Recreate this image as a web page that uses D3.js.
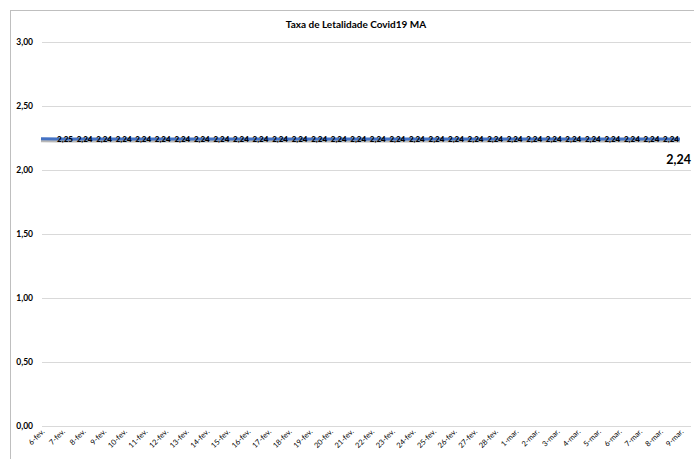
<!DOCTYPE html>
<html><head><meta charset="utf-8">
<script src="https://cdn.jsdelivr.net/npm/d3@7"></script>
<style>body{margin:0;background:#fff}svg{display:block}</style>
</head><body>
<script>
const categories = ["6-fev.","7-fev.","8-fev.","9-fev.","10-fev.","11-fev.","12-fev.","13-fev.","14-fev.","15-fev.","16-fev.","17-fev.","18-fev.","19-fev.","20-fev.","21-fev.","22-fev.","23-fev.","24-fev.","25-fev.","26-fev.","27-fev.","28-fev.","1-mar.","2-mar.","3-mar.","4-mar.","5-mar.","6-mar.","7-mar.","8-mar.","9-mar."];
const values = [2.245,2.242,2.242,2.242,2.242,2.242,2.242,2.242,2.242,2.242,2.242,2.242,2.242,2.242,2.242,2.242,2.242,2.242,2.242,2.242,2.242,2.242,2.242,2.242,2.242,2.242,2.242,2.242,2.242,2.242,2.242,2.242];
const yTicks = [0,0.5,1,1.5,2,2.5,3];
const title = "Taxa de Letalidade Covid19 MA";
const lastLabel = "2,24";

const W = 694, H = 459;
const fmt = v => d3.format(".2f")(v).replace(".", ",");
const svg = d3.select("body").append("svg").attr("width", W).attr("height", H);

// chart frame
svg.append("rect").attr("x", 10.5).attr("y", 10.5).attr("width", 720).attr("height", 500)
  .attr("fill", "none").attr("stroke", "#bfbfbf").attr("stroke-width", 1);

const y = d3.scaleLinear().domain([0, 3]).range([426, 42]);
const x = d3.scalePoint().domain(categories).range([41, 680]);
const xl = d3.scalePoint().domain(categories).range([65, 671]);

// gridlines
svg.append("g").selectAll("line").data(yTicks).join("line")
  .attr("x1", 42).attr("x2", 691)
  .attr("y1", d => Math.round(y(d)) + 0.5).attr("y2", d => Math.round(y(d)) + 0.5)
  .attr("stroke", "#d9d9d9").attr("stroke-width", 1);

// y labels
svg.append("g").selectAll("text").data(yTicks).join("text")
  .attr("x", 33).attr("y", d => y(d)).attr("dy", "0.35em")
  .attr("text-anchor", "end").attr("font-family", "Lato").attr("font-weight", "bold")
  .attr("font-size", 8.5).attr("fill", "#000").text(fmt);

// title
svg.append("text").attr("x", 356).attr("y", 28).attr("text-anchor", "middle")
  .attr("font-family", "Lato").attr("font-weight", "bold").attr("font-size", 10)
  .attr("fill", "#000").text(title);

// line shadow + line
const line = d3.line().x((d, i) => x(categories[i])).y(d => y(d));
svg.append("path").datum(values).attr("d", line).attr("transform", "translate(0,2)")
  .attr("fill", "none").attr("stroke", "#9a9a9a").attr("stroke-width", 3).attr("opacity", 0.7);
svg.append("path").datum(values).attr("d", line)
  .attr("fill", "none").attr("stroke", "#4472C4").attr("stroke-width", 3);

// data labels
svg.append("g").selectAll("text").data(values).join("text")
  .attr("x", (d, i) => xl(categories[i])).attr("y", y(2.242)).attr("dy", "0.35em")
  .attr("text-anchor", "middle").attr("font-family", "Lato").attr("font-weight", "900")
  .attr("font-size", 8).attr("fill", "#000").text(fmt);

// big last label
svg.append("text").attr("x", 691).attr("y", y(values[values.length - 1]) + 25)
  .attr("text-anchor", "end").attr("font-family", "Lato").attr("font-weight", "bold")
  .attr("font-size", 12.5).attr("fill", "#000").text(lastLabel);

// x labels
svg.append("g").selectAll("text").data(categories).join("text")
  .attr("transform", d => `translate(${x(d) + 4},${432}) rotate(-45)`)
  .attr("text-anchor", "end").attr("font-family", "Lato")
  .attr("font-size", 7.5).attr("fill", "#000").text(d => d);
</script>
</body></html>
